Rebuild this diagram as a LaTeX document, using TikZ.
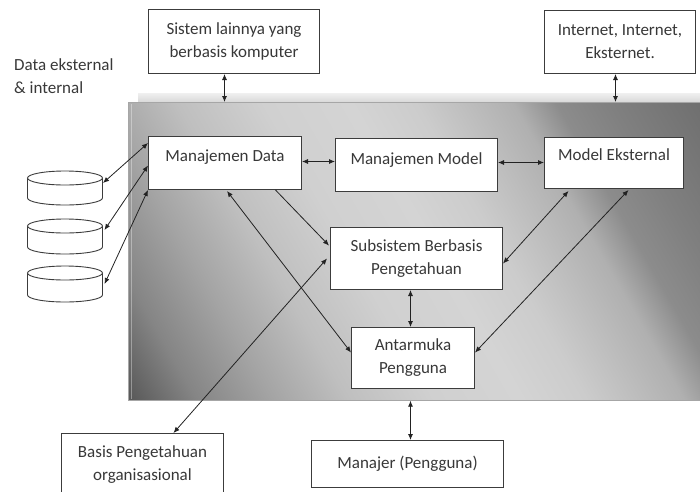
\documentclass[tikz,border=0pt]{standalone}
\usepackage{fontspec}
\setmainfont{Carlito}
\usetikzlibrary{arrows.meta,calc}

\definecolor{boxline}{HTML}{3C3C3C}
\definecolor{arrowc}{HTML}{222222}
\definecolor{txt}{HTML}{383838}
\definecolor{sA}{HTML}{3C3C3C}
\definecolor{sB}{HTML}{5A5A5A}
\definecolor{sC}{HTML}{858585}
\definecolor{sD}{HTML}{A4A4A4}
\definecolor{sE}{HTML}{BFBFBF}
\definecolor{sF}{HTML}{D0D0D0}
\definecolor{sG}{HTML}{D4D4D4}
\definecolor{sH}{HTML}{CCCCCC}
\definecolor{sI}{HTML}{B0B0B0}
\definecolor{sJ}{HTML}{8C8C8C}
\definecolor{sK}{HTML}{808080}
\definecolor{sL}{HTML}{707070}
\definecolor{sM}{HTML}{686868}

% diagonal gradient of the system panel
\pgfdeclarehorizontalshading{panelshade}{100bp}{%
  color(0bp)=(sA); color(16bp)=(sB); color(22bp)=(sC); color(29bp)=(sD);
  color(36bp)=(sE); color(44bp)=(sF); color(52bp)=(sG); color(58bp)=(sH);
  color(67bp)=(sI); color(71bp)=(sJ); color(76bp)=(sK); color(84bp)=(sL);
  color(100bp)=(sM)}

\tikzset{
  box/.style={draw=boxline, line width=1pt, fill=white, inner sep=0pt,
    align=center, anchor=north west, text=txt,
    font=\fontsize{17}{23}\selectfont},
  plain/.style={text=txt, font=\fontsize{17}{23}\selectfont, inner sep=0pt},
  link/.style={draw=arrowc, line width=0.8pt, {Latex[length=6pt,width=5pt]}-{Latex[length=6pt,width=5pt]}},
  onelink/.style={draw=arrowc, line width=0.8pt, -{Latex[length=6pt,width=5pt]}},
  cyl/.style={draw=boxline, line width=0.9pt, fill=white},
}

\begin{document}
\begin{tikzpicture}[x=1pt,y=-1pt]
\useasboundingbox (0,0) rectangle (700,491);

% top face and body of the system panel
\shade[top color=gray!12, bottom color=gray!30] (138,93) rectangle (700,102);
\node[shade, shading=panelshade, shading angle=30, draw=gray!70, line width=0.7pt,
      minimum width=572pt, minimum height=298pt, inner sep=0pt, anchor=north west]
      (panel) at (128,102) {};
\draw[white, opacity=0.35, line width=0.8pt]
  ($(panel.north west)+(3,2)$) -- ($(panel.south west)+(3,-2)$);

% outside boxes
\node[box, minimum width=171pt, minimum height=64pt] (sys) at (148,9)
  {Sistem lainnya yang\\berbasis komputer};
\node[box, minimum width=151pt, minimum height=63pt] (net) at (544,10)
  {Internet, Internet,\\Eksternet.};
\node[plain, anchor=west, align=left] (dlab) at (14,76.5)
  {Data eksternal\\\& internal};
\node[box, minimum width=162pt, minimum height=63pt] (basis) at (61,433)
  {Basis Pengetahuan\\organisasional};
\node[box, minimum width=192pt, minimum height=47pt] (man) at (311,440)
  {Manajer (Pengguna)};

% databases
\foreach \i/\yt/\yb in {1/178/198, 2/226/247, 3/273/295}{
  \fill[white] (27.5,\yt) -- (27.5,\yb)
     arc[start angle=180, end angle=360, x radius=37.5pt, y radius=7pt]
     -- (102.5,\yt) -- cycle;
  \draw[draw=boxline, line width=0.9pt] (27.5,\yt) -- (27.5,\yb)
     arc[start angle=180, end angle=360, x radius=37.5pt, y radius=7pt]
     -- (102.5,\yt);
  \draw[cyl] (65,\yt) ellipse[x radius=37.5pt, y radius=7pt];
}
\coordinate (db1) at (103,183);
\coordinate (db2) at (104.5,230);
\coordinate (db3) at (104.5,284);

% boxes inside the panel
\node[box, minimum width=153pt, text height=24.5pt, text depth=28.5pt] (md) at (148,136)
  {Manajemen Data};
\node[box, minimum width=162pt, text height=25.5pt, text depth=27.5pt] (mm) at (335,138)
  {Manajemen Model};
\node[box, minimum width=139pt, text height=22.5pt, text depth=28.5pt] (me) at (544,137)
  {Model Eksternal};
\node[box, minimum width=172pt, minimum height=62pt] (sub) at (330,227)
  {Subsistem Berbasis\\Pengetahuan};
\node[box, minimum width=123pt, minimum height=61pt] (ant) at (351,327)
  {Antarmuka\\Pengguna};

% connectors
\coordinate (sysp) at ($(sys.south)+(-9.5,0)$);
\coordinate (netp) at ($(net.south)+(-4.5,0)$);
\draw[link] (sysp) -- (sysp |- panel.north);
\draw[link] (netp) -- (netp |- panel.north);

\draw[link] (db1) -- ($(md.north west)+(0,7)$);
\draw[link] (db2) -- ($(md.west)+(0,2.5)$);
\draw[link] (db3) -- (md.south west);

\draw[link] ($(md.east)+(0,-1.5)$) -- ($(mm.west)+(0,-3.5)$);
\draw[link] ($(mm.east)+(0,-2.5)$) -- ($(me.west)+(0,-0.5)$);

\draw[onelink] ($(md.south)+(50.5,0)$) -- ($(sub.west)+(-1,-13)$);
\draw[link] ($(md.south)+(2,1)$) -- ($(ant.west)+(0,-5.5)$);
\draw[link] ($(basis.north)+(31,0)$) -- ($(sub.west)+(-3,0)$);
\draw[link] ($(me.south)+(-45.5,2)$) -- ($(sub.east)+(0,5)$);
\draw[link] ($(me.south)+(14.5,1)$) -- ($(ant.east)+(0,-5.5)$);

\coordinate (subp) at ($(sub.south)+(-6,0)$);
\draw[link] (subp) -- (subp |- ant.north);
\coordinate (manp) at ($(man.north)+(3,0)$);
\draw[link] (manp |- panel.south) -- (manp);
\end{tikzpicture}
\end{document}
